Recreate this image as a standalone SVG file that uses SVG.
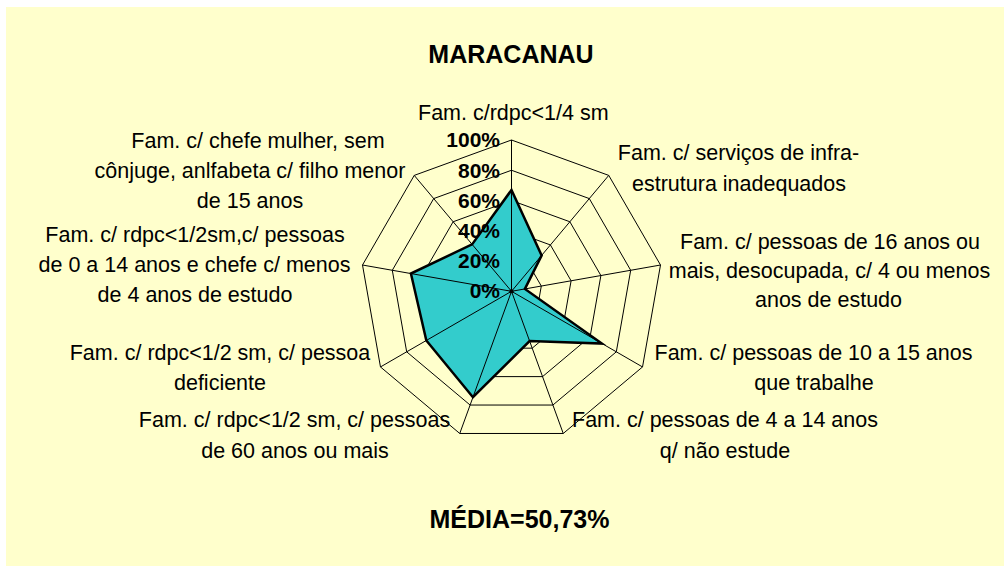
<svg xmlns="http://www.w3.org/2000/svg" width="1004" height="566" viewBox="0 0 1004 566">
<style>
.lbl{font-family:"Liberation Sans",Arial,sans-serif;font-size:21.5px;fill:#000;text-anchor:middle}
.tick{font-family:"Liberation Sans",Arial,sans-serif;font-size:21px;font-weight:bold;fill:#000;text-anchor:end}
.ttl{font-family:"Liberation Sans",Arial,sans-serif;font-size:25px;font-weight:bold;fill:#000;text-anchor:middle}
.ring{fill:none;stroke:#000;stroke-width:1}
.axis{stroke:#000;stroke-width:1}
</style>
<rect x="0" y="0" width="1004" height="566" fill="#ffffff"/>
<rect x="6" y="7" width="998" height="559" fill="#ffffcc"/>
<g id="title"><text class="ttl" x="511" y="63">MARACANAU</text></g>
<g id="grid">
<polygon class="ring" points="511.5,140 608.76,175.4 660.5,265.03 642.53,366.95 563.24,433.48 459.76,433.48 380.47,366.95 362.5,265.03 414.24,175.4"/>
<polygon class="ring" points="511.5,170.26 589.31,198.58 630.7,270.29 616.32,351.82 552.9,405.04 470.1,405.04 406.68,351.82 392.3,270.29 433.69,198.58"/>
<polygon class="ring" points="511.5,200.52 569.85,221.76 600.9,275.54 590.12,336.69 542.55,376.61 480.45,376.61 432.88,336.69 422.1,275.54 453.15,221.76"/>
<polygon class="ring" points="511.5,230.78 550.4,244.94 571.1,280.79 563.91,321.56 532.2,348.17 490.8,348.17 459.09,321.56 451.9,280.79 472.6,244.94"/>
<polygon class="ring" points="511.5,261.04 530.95,268.12 541.3,286.05 537.71,306.43 521.85,319.74 501.15,319.74 485.29,306.43 481.7,286.05 492.05,268.12"/>
</g>
<g id="series">
<polygon points="511.5,189.93 541.65,255.37 524.91,288.94 601.91,343.5 529.61,341.07 472.95,397.22 426.33,340.47 410.92,273.57 472.11,244.36" fill="#33cccc" stroke="none"/>
</g>
<g id="connectors">
<line class="axis" x1="511.5" y1="291.3" x2="511.5" y2="140"/>
<line class="axis" x1="511.5" y1="291.3" x2="608.76" y2="175.4"/>
<line class="axis" x1="511.5" y1="291.3" x2="660.5" y2="265.03"/>
<line class="axis" x1="511.5" y1="291.3" x2="642.53" y2="366.95"/>
<line class="axis" x1="511.5" y1="291.3" x2="563.24" y2="433.48"/>
<line class="axis" x1="511.5" y1="291.3" x2="459.76" y2="433.48"/>
<line class="axis" x1="511.5" y1="291.3" x2="380.47" y2="366.95"/>
<line class="axis" x1="511.5" y1="291.3" x2="362.5" y2="265.03"/>
<line class="axis" x1="511.5" y1="291.3" x2="414.24" y2="175.4"/>
</g>
<g id="series-outline">
<polygon points="511.5,189.93 541.65,255.37 524.91,288.94 601.91,343.5 529.61,341.07 472.95,397.22 426.33,340.47 410.92,273.57 472.11,244.36" fill="none" stroke="#000" stroke-width="2.5" stroke-linejoin="miter"/>
<circle cx="511.5" cy="291.3" r="2" fill="#000"/>
</g>
<g id="ticks">
<text class="tick" x="500" y="147">100%</text>
<text class="tick" x="500" y="178">80%</text>
<text class="tick" x="500" y="208">60%</text>
<text class="tick" x="500" y="238">40%</text>
<text class="tick" x="500" y="268">20%</text>
<text class="tick" x="500" y="298">0%</text>
</g>
<g id="label-0"><text class="lbl" x="513.3" y="120">Fam. c/rdpc&lt;1/4 sm</text></g>
<g id="label-1"><text class="lbl" x="738.5" y="160">Fam. c/ serviços de infra-</text><text class="lbl" x="739" y="191">estrutura inadequados</text></g>
<g id="label-2"><text class="lbl" x="830" y="248.5">Fam. c/ pessoas de 16 anos ou</text><text class="lbl" x="829.5" y="278">mais, desocupada, c/ 4 ou menos</text><text class="lbl" x="828.5" y="307">anos de estudo</text></g>
<g id="label-3"><text class="lbl" x="813.5" y="360">Fam. c/ pessoas de 10 a 15 anos</text><text class="lbl" x="814" y="390">que trabalhe</text></g>
<g id="label-4"><text class="lbl" x="725" y="427">Fam. c/ pessoas de 4 a 14 anos</text><text class="lbl" x="725" y="458">q/ não estude</text></g>
<g id="label-5"><text class="lbl" x="294.5" y="427">Fam. c/ rdpc&lt;1/2 sm, c/ pessoas</text><text class="lbl" x="295" y="458">de 60 anos ou mais</text></g>
<g id="label-6"><text class="lbl" x="220" y="360">Fam. c/ rdpc&lt;1/2 sm, c/ pessoa</text><text class="lbl" x="220" y="390">deficiente</text></g>
<g id="label-7"><text class="lbl" x="195" y="242">Fam. c/ rdpc&lt;1/2sm,c/ pessoas</text><text class="lbl" x="194.5" y="272">de 0 a 14 anos e chefe c/ menos</text><text class="lbl" x="195" y="302">de 4 anos de estudo</text></g>
<g id="label-8"><text class="lbl" x="258" y="148">Fam. c/ chefe mulher, sem</text><text class="lbl" x="250" y="178">cônjuge, anlfabeta c/ filho menor</text><text class="lbl" x="250" y="208">de 15 anos</text></g>
<g id="media"><text class="ttl" x="519.5" y="528">MÉDIA=50,73%</text></g>
</svg>
